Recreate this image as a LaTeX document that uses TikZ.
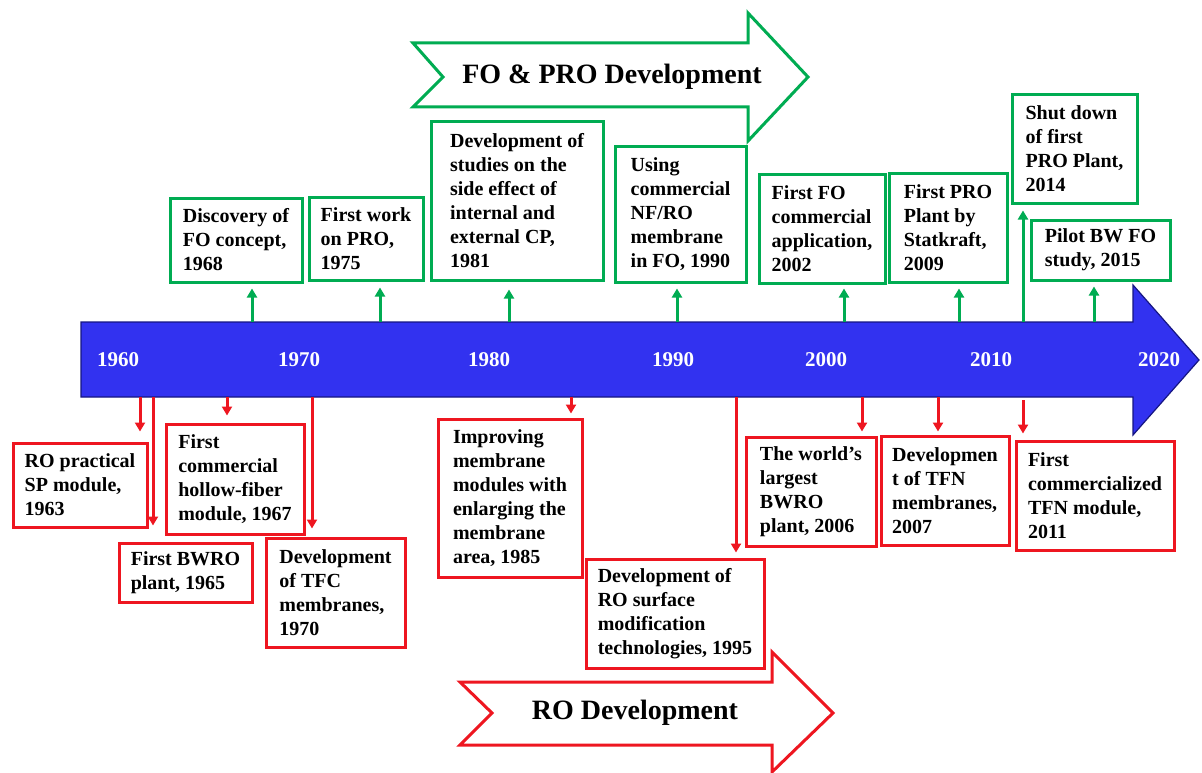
\documentclass[tikz,border=0pt]{standalone}
\usepackage{fontspec}
\setmainfont{Liberation Serif}
\usetikzlibrary{arrows.meta}

\definecolor{fogreen}{RGB}{0,172,82}
\definecolor{rored}{RGB}{238,22,32}
\definecolor{barblue}{RGB}{50,50,240}
\definecolor{baredge}{RGB}{22,22,130}

\tikzset{
  evtext/.style={font=\fontsize{20}{24}\selectfont\bfseries, align=left, inner sep=0pt, text=black},
  gbox/.style={evtext, draw=fogreen, line width=3pt, fill=white},
  rbox/.style={evtext, draw=rored, line width=3pt, fill=white},
  garrow/.style={draw=fogreen, line width=3pt, -{Triangle[length=9pt,width=10pt]}},
  rarrow/.style={draw=rored, line width=3pt, -{Triangle[length=9pt,width=10pt]}},
  yearlbl/.style={font=\fontsize{21}{24}\selectfont\bfseries, text=white, inner sep=0pt},
  bandtext/.style={font=\fontsize{28}{32}\selectfont\bfseries, text=black, inner sep=0pt}
}

\begin{document}
\begin{tikzpicture}[x=1pt,y=-1pt]
\useasboundingbox (0,0) rectangle (1202,773);
\fill[white] (0,0) rectangle (1202,773);

% timeline arrow
\draw[fill=barblue, draw=baredge, line width=1.2pt, line join=miter]
  (81,322) -- (1133,322) -- (1133,285) -- (1199,360) -- (1133,435) -- (1133,397) -- (81,397) -- cycle;

\node[yearlbl] (y1960) at (118,360) {1960};
\node[yearlbl] (y1970) at (299,360) {1970};
\node[yearlbl] (y1980) at (489,360) {1980};
\node[yearlbl] (y1990) at (673,360) {1990};
\node[yearlbl] (y2000) at (826,360) {2000};
\node[yearlbl] (y2010) at (991,360) {2010};
\node[yearlbl] (y2020) at (1159,360) {2020};

% band arrows
\draw[draw=fogreen, line width=3pt, fill=white, line join=miter]
  (413,43) -- (748,43) -- (748,13) -- (808,77) -- (748,141) -- (748,107) -- (413,107) -- (443,77) -- cycle;
\node[bandtext] (fotitle) at (612,77) {FO \& PRO Development};

\draw[draw=rored, line width=3pt, fill=white, line join=miter]
  (460,682) -- (772,682) -- (772,652) -- (833,713) -- (772,772) -- (772,745) -- (460,745) -- (492,713) -- cycle;
\node[bandtext] (rotitle) at (635,713) {RO Development};

% FO / PRO milestones
\node[gbox, minimum width=132pt, minimum height=84pt] (g68) at (236,240) {Discovery of\\FO concept,\\1968};
\node[gbox, minimum width=114pt, minimum height=83pt] (g75) at (366,238.5) {First work\\on PRO,\\1975};
\node[gbox, minimum width=172pt, minimum height=158pt] (g81) at (517,201) {Development of\\studies on the\\side effect of\\internal and\\external CP,\\1981};
\node[gbox, minimum width=131pt, minimum height=135pt] (g90) at (680.5,214.5) {Using\\commercial\\NF/RO\\membrane\\in FO, 1990};
\node[gbox, minimum width=126pt, minimum height=109pt] (g02) at (822,228.5) {First FO\\commercial\\application,\\2002};
\node[gbox, minimum width=118pt, minimum height=109pt] (g09) at (948,227.5) {First PRO\\Plant by\\Statkraft,\\2009};
\node[gbox, minimum width=125pt, minimum height=108pt] (g14) at (1074.5,149) {Shut down\\of first\\PRO Plant,\\2014};
\node[gbox, minimum width=139pt, minimum height=60pt] (g15) at (1100.5,250) {Pilot BW FO\\study, 2015};

% RO milestones
\node[rbox, minimum width=134pt, minimum height=84pt] (r63) at (80,485) {RO practical\\SP module,\\1963};
\node[rbox, minimum width=138pt, minimum height=110pt] (r67) at (235,479) {First\\commercial\\hollow-fiber\\module, 1967};
\node[rbox, minimum width=133pt, minimum height=59pt] (r65) at (185.5,572.5) {First BWRO\\plant, 1965};
\node[rbox, minimum width=139pt, minimum height=109pt] (r70) at (335.5,592.5) {Development\\of TFC\\membranes,\\1970};
\node[rbox, minimum width=144pt, minimum height=158pt] (r85) at (510,498) {Improving\\membrane\\modules with\\enlarging the\\membrane\\area, 1985};
\node[rbox, minimum width=178pt, minimum height=109pt] (r95) at (675,613.5) {Development of\\RO surface\\modification\\technologies, 1995};
\node[rbox, minimum width=130pt, minimum height=109pt] (r06) at (811,491.5) {The world’s\\largest\\BWRO\\plant, 2006};
\node[rbox, minimum width=128pt, minimum height=109pt] (r07) at (945,490.5) {Developmen\\t of TFN\\membranes,\\2007};
\node[rbox, minimum width=158pt, minimum height=109pt] (r11) at (1095,495.5) {First\\commercialized\\TFN module,\\2011};

% stems on the upper edge of the timeline
\coordinate (t68) at (252,322);
\coordinate (t75) at (380,322);
\coordinate (t81) at (509,322);
\coordinate (t90) at (677,322);
\coordinate (t02) at (844,322);
\coordinate (t09) at (959,322);
\coordinate (t14) at (1023,322);
\coordinate (t15) at (1094,322);

\draw[garrow, shorten >=5pt] (t68) -- (t68 |- g68.south);
\draw[garrow, shorten >=6pt] (t75) -- (t75 |- g75.south);
\draw[garrow, shorten >=8pt] (t81) -- (t81 |- g81.south);
\draw[garrow, shorten >=5pt] (t90) -- (t90 |- g90.south);
\draw[garrow, shorten >=4pt] (t02) -- (t02 |- g02.south);
\draw[garrow, shorten >=5pt] (t09) -- (t09 |- g09.south);
\draw[garrow, shorten >=6pt] (t14) -- (t14 |- g14.south);
\draw[garrow, shorten >=5pt] (t15) -- (t15 |- g15.south);

% stems on the lower edge of the timeline
\coordinate (b63) at (140,397);
\coordinate (b65) at (153,397);
\coordinate (b67) at (227,397);
\coordinate (b70) at (312,397);
\coordinate (b85) at (571,397);
\coordinate (b95) at (736,397);
\coordinate (b06) at (862,397);
\coordinate (b07) at (938,397);
\coordinate (b11) at (1023,400);

\draw[rarrow, shorten >=10pt] (b63) -- (b63 |- r63.north);
\draw[rarrow, shorten >=16pt] (b65) -- (b65 |- r65.north);
\draw[rarrow, shorten >=7pt] (b67) -- (b67 |- r67.north);
\draw[rarrow, shorten >=8pt] (b70) -- (b70 |- r70.north);
\draw[rarrow, shorten >=4pt] (b85) -- (b85 |- r85.north);
\draw[rarrow, shorten >=5pt] (b95) -- (b95 |- r95.north);
\draw[rarrow, shorten >=4pt] (b06) -- (b06 |- r06.north);
\draw[rarrow, shorten >=3pt] (b07) -- (b07 |- r07.north);
\draw[rarrow, shorten >=6pt] (b11) -- (b11 |- r11.north);
\end{tikzpicture}
\end{document}
